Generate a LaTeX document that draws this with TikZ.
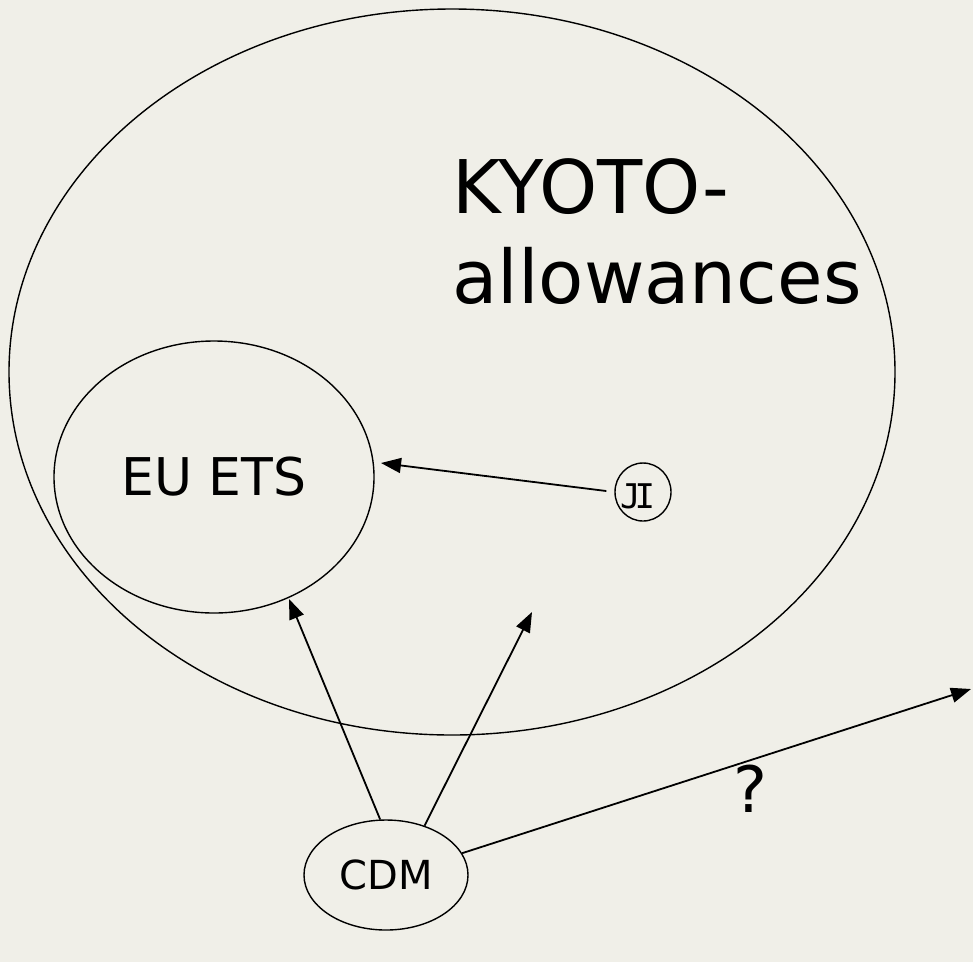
\documentclass[tikz,border=0pt]{standalone}
\usepackage{fontspec}
\setmainfont{DejaVu Sans}
\newfontfamily\monofont{DejaVu Sans Mono}
\usetikzlibrary{shapes.geometric,arrows.meta}
\definecolor{paper}{RGB}{240,239,232}
\begin{document}
\begin{tikzpicture}[x=1pt,y=-1pt,
  ring/.style={draw, ellipse, line width=1.4pt, inner sep=0pt},
  arr/.style={line width=1.8pt, -{Triangle[length=20pt,width=15pt]}},
  txt/.style={inner sep=0pt, anchor=base}]
\fill[paper] (0,0) rectangle (973,962);
\useasboundingbox (0,0) rectangle (973,962);

% outer set of Kyoto allowances
\node[ring, minimum width=886pt, minimum height=726pt] (kyoto) at (452,372) {};
\node[txt, anchor=base west, font=\fontsize{74}{90}\selectfont] (kyotoA) at (452,213) {KYOTO-};
\node[txt, anchor=base west, font=\fontsize{74}{90}\selectfont] (kyotoB) at (452,303) {allowances};

% EU emissions trading scheme
\node[ring, minimum width=320pt, minimum height=272pt, font=\fontsize{52}{60}\selectfont] (euets) at (214,477) {EU ETS};

% joint implementation
\node[ring, minimum width=56pt, minimum height=58pt] (ji) at (643,492) {};
\node[txt, font=\monofont\fontsize{34}{40}\selectfont] (jitext) at (637.5,508) {J\kern-6pt I};

% clean development mechanism
\node[ring, minimum width=164pt, minimum height=110pt, font=\fontsize{40}{48}\selectfont] (cdm) at (386,875) {CDM};

% arrow tips
\coordinate (tipEU) at (381,463);
\coordinate (tipEUb) at (289,599);
\coordinate (tipKY) at (532,612);
\coordinate (tipOut) at (971,689);

\draw[arr, shorten <=8pt] (ji.west) -- (tipEU);
\draw[arr] (cdm.96) -- (tipEUb);
\draw[arr] (cdm.52) -- (tipKY);
\draw[arr] (cdm.16) -- (tipOut);

\node[txt, font=\fontsize{64}{70}\selectfont] (query) at (750,812) {?};
\end{tikzpicture}
\end{document}
